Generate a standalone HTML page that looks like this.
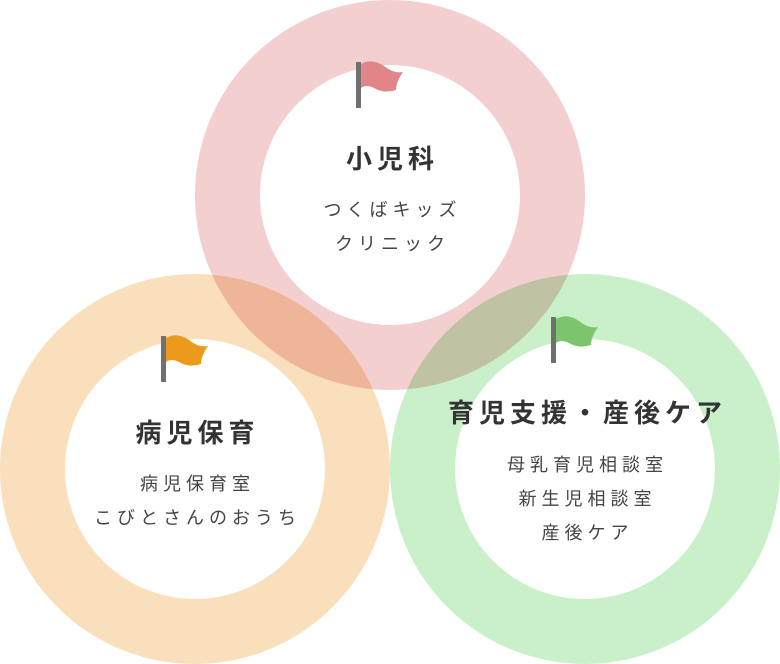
<!DOCTYPE html>
<html><head><meta charset="utf-8"><style>
html,body{margin:0;padding:0;background:#fff;}
body{width:780px;height:664px;position:relative;overflow:hidden;font-family:"Liberation Sans","Noto Sans CJK JP",sans-serif;color:#333;}
.t{position:absolute;width:360px;text-align:center;transform:translateX(-180px);}
.h{font-size:26px;font-weight:bold;letter-spacing:5px;padding-left:5px;box-sizing:border-box;}
.s{font-size:18px;letter-spacing:5px;padding-left:5px;box-sizing:border-box;line-height:34px;color:#444;}
</style></head><body>
<svg width="780" height="664" style="position:absolute;left:0;top:0">
<g style="isolation:isolate">
<circle cx="195" cy="469" r="162.5" fill="none" stroke="#f9dfbb" stroke-width="65"/>
<circle cx="585" cy="469" r="162.5" fill="none" stroke="#c9f0c8" stroke-width="65" style="mix-blend-mode:multiply"/>
<circle cx="390" cy="195" r="162.5" fill="none" stroke="#f4cfd0" stroke-width="65" style="mix-blend-mode:multiply"/>
</g>
<g>
<rect x="356" y="62" width="5" height="46" fill="#707070"/>
<path d="M361 64 Q372 58 384 66 Q394 74 403 72 Q396 82 396 90 Q384 94 374 88 Q366 84 361 88Z" fill="#e28589"/>
<rect x="161" y="336" width="5" height="46" fill="#707070"/>
<path d="M166 338 Q177 332 189 340 Q199 348 208 346 Q201 356 201 364 Q189 368 179 362 Q171 358 166 362Z" fill="#ec9a1c"/>
<rect x="551" y="317" width="5" height="46" fill="#707070"/>
<path d="M556 319 Q567 313 579 321 Q589 329 598 327 Q591 337 591 345 Q579 349 569 343 Q561 339 556 343Z" fill="#7cc56a"/>
</g>
</svg>
<div class="t h" style="left:390px;top:139px">小児科</div>
<div class="t s" style="left:390px;top:193px">つくばキッズ<br>クリニック</div>
<div class="t h" style="left:195px;top:413px">病児保育</div>
<div class="t s" style="left:195px;top:467px">病児保育室<br>こびとさんのおうち</div>
<div class="t h" style="left:585px;top:393px">育児支援・産後ケア</div>
<div class="t s" style="left:585px;top:448px">母乳育児相談室<br>新生児相談室<br>産後ケア</div>
</body></html>
